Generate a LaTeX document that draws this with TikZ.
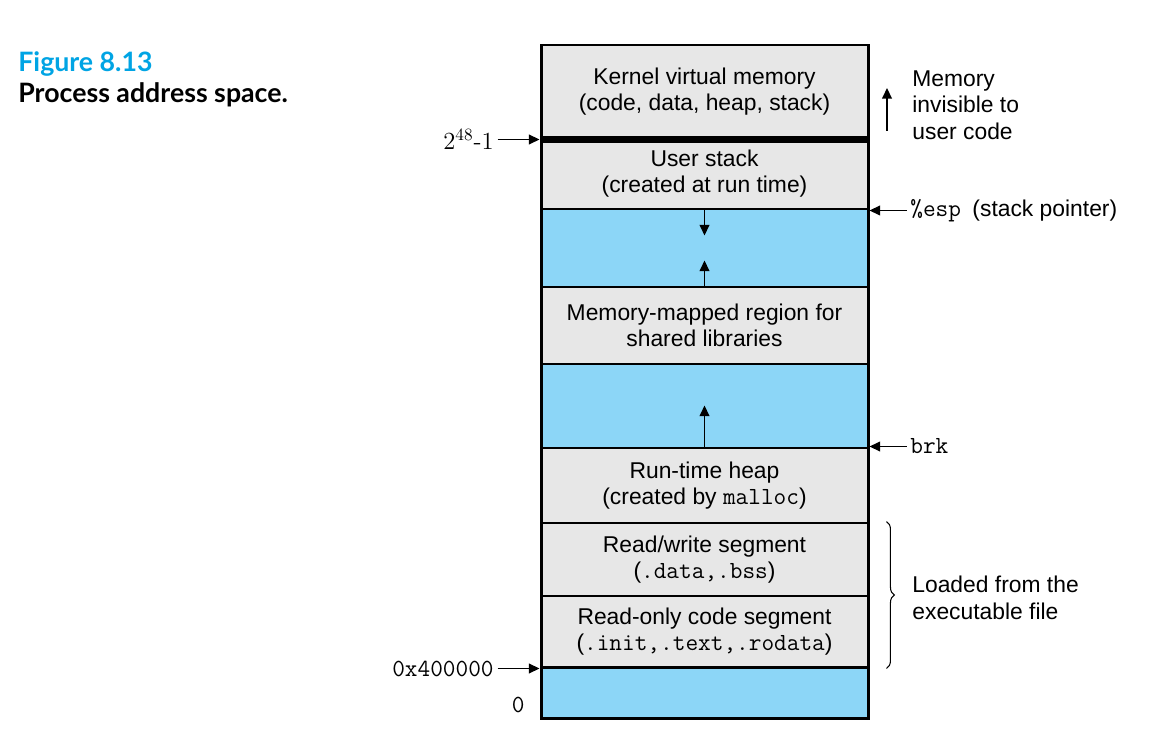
\documentclass[tikz,border=0pt]{standalone}
\usepackage{fontspec}
\setsansfont{Liberation Sans}
\newfontfamily\captionfont{Lato}
\usetikzlibrary{arrows.meta,positioning,decorations.pathreplacing}
\definecolor{figcyan}{RGB}{0,164,228}
\definecolor{gray1}{RGB}{231,231,231}
\definecolor{blue1}{RGB}{140,214,247}
\newcommand{\code}[1]{{\fontsize{14}{15}\selectfont\ttfamily #1}}
\tikzset{
  region/.style={draw, line width=1.7pt, fill=gray1, minimum width=6.54cm, inner sep=0pt, align=center, font=\fontsize{13}{15}\sffamily},
  hole/.style={region, fill=blue1},
  side/.style={inner sep=2pt, align=left, font=\fontsize{13}{15}\sffamily},
  arr/.style={line width=0.8pt, -{Triangle[length=6pt,width=5.5pt]}},
}

\begin{document}
\begin{tikzpicture}[scale=1]
\useasboundingbox (0,0) rectangle (23.12,-14.84);
%
\node[anchor=base west, inner sep=0pt, font=\fontsize{15.2}{17}\captionfont\bfseries, text=figcyan] (fignum) at (0.36,-1.44) {Figure 8.13};
\node[anchor=base west, inner sep=0pt, font=\fontsize{15.2}{17}\captionfont\bfseries] (figtitle) at (0.36,-2.06) {Process address space.};
%
\node[region, minimum height=1.86cm] (kernel) at (14.09,-1.83) {Kernel virtual memory\\(code, data, heap, stack)};
\node[region, minimum height=1.42cm] (ustack) at (14.09,-3.47) {User stack\\(created at run time)};
\node[hole, minimum height=1.56cm] (hole1) at (14.09,-4.96) {};
\node[region, minimum height=1.54cm] (mmap) at (14.09,-6.51) {Memory-mapped region for\\shared libraries};
\node[hole, minimum height=1.68cm] (hole2) at (14.09,-8.12) {};
\node[region, minimum height=1.50cm] (heap) at (14.09,-9.71) {Run-time heap\\(created by \code{malloc})};
\node[region, minimum height=1.46cm] (rwseg) at (14.09,-11.19) {Read/write segment\\(\code{.data,.bss})};
\node[region, minimum height=1.42cm] (roseg) at (14.09,-12.63) {Read-only code segment\\(\code{.init,.text,.rodata})};
\node[hole, minimum height=1.02cm] (bottom) at (14.09,-13.85) {};
%
\draw[line width=4pt] (kernel.south west) -- (kernel.south east);
%
\coordinate (stackgrow) at ([yshift=-0.5cm]ustack.south);
\coordinate (mmapgrow) at ([yshift=0.5cm]mmap.north);
\coordinate (heapgrow) at ([yshift=0.82cm]heap.north);
\draw[arr] (ustack.south) -- (stackgrow);
\draw[arr] (mmap.north) -- (mmapgrow);
\draw[arr] (heap.north) -- (heapgrow);
%
\node[side, left=0.84cm of kernel.south west, font=\fontsize{14}{16}\rmfamily] (maxaddr) {2\textsuperscript{48}-1};
\node[side, left=0.84cm of roseg.south west] (textaddr) {\code{0x400000}};
\node[side, anchor=south east] (zero) at ([xshift=-0.22cm,yshift=0.05cm]bottom.south west) {\code{0}};
\draw[arr] (maxaddr) -- (kernel.south west);
\draw[arr] (textaddr) -- (roseg.south west);
%
\node[side, right=0.74cm of ustack.south east] (esp) {\code{\%esp}\enspace(stack pointer)};
\node[side, right=0.74cm of heap.north east] (brk) {\code{brk}};
\draw[arr] (esp) -- (ustack.south east);
\draw[arr] (brk) -- (heap.north east);
%
\node[side, anchor=west] (invisible) at (18.17,-2.10) {Memory\\invisible to\\user code};
\coordinate (inv0) at (17.74,-2.62);
\coordinate (inv1) at (17.74,-1.76);
\draw[arr] (inv0) -- (inv1);
%
\draw[decorate, decoration={brace, amplitude=4.5pt}, line width=0.6pt] ([xshift=0.34cm]rwseg.north east) -- ([xshift=0.34cm]roseg.south east);
\node[side, anchor=west] (loaded) at (18.17,-11.96) {Loaded from the\\executable file};
\end{tikzpicture}
\end{document}
